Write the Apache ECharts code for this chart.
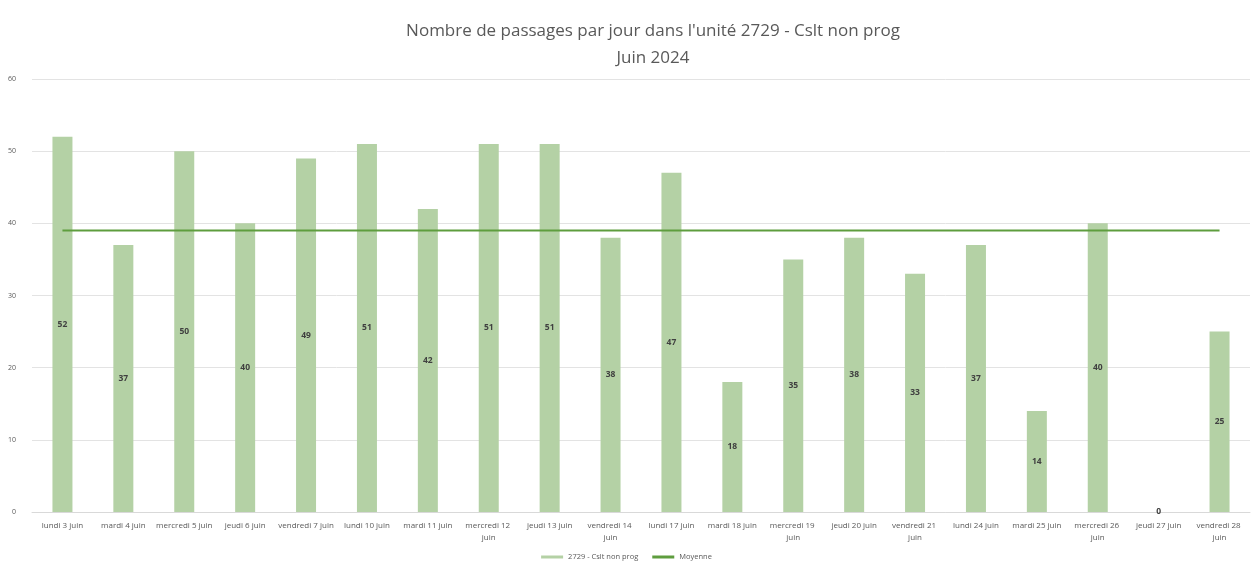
<!DOCTYPE html>
<html>
<head>
<meta charset="utf-8">
<script src="https://cdn.jsdelivr.net/npm/echarts@6/dist/echarts.min.js"></script>
<style>
  html, body { margin: 0; padding: 0; background: #fff; }
  #chart { width: 1253px; height: 568px; }
</style>
</head>
<body>
<div id="chart"></div>
<script>
var jours = [
  'lundi 3 juin', 'mardi 4 juin', 'mercredi 5 juin', 'jeudi 6 juin', 'vendredi 7 juin',
  'lundi 10 juin', 'mardi 11 juin', 'mercredi 12 juin', 'jeudi 13 juin', 'vendredi 14 juin',
  'lundi 17 juin', 'mardi 18 juin', 'mercredi 19 juin', 'jeudi 20 juin', 'vendredi 21 juin',
  'lundi 24 juin', 'mardi 25 juin', 'mercredi 26 juin', 'jeudi 27 juin', 'vendredi 28 juin'
]
var passages = [52, 37, 50, 40, 49, 51, 42, 51, 51, 38, 47, 18, 35, 38, 33, 37, 14, 40, 0, 25]
var moyenne = [39, 39, 39, 39, 39, 39, 39, 39, 39, 39, 39, 39, 39, 39, 39, 39, 39, 39, 39, 39]
var yTicks = [0, 10, 20, 30, 40, 50, 60]

var chart = echarts.init(document.getElementById('chart'))

var font = 'Open Sans, Calibri, sans-serif'

chart.setOption({
  animation: false,
  title: {
    text: "Nombre de passages par jour dans l'unité 2729 - Cslt non prog\nJuin 2024",
    left: 648,
    textAlign: 'center',
    top: 13,
    textStyle: {
      fontFamily: font,
      fontSize: 17,
      fontWeight: 'normal',
      color: '#595959',
      lineHeight: 27
    }
  },
  legend: {
    bottom: 2,
    left: 'center',
    itemWidth: 22,
    itemHeight: 3,
    itemGap: 14,
    textStyle: { fontFamily: font, fontSize: 7.5, color: '#595959' },
    data: [
      { name: '2729 - Cslt non prog', icon: 'rect' },
      { name: 'Moyenne', icon: 'rect' }
    ]
  },
  grid: {
    left: 32,
    right: 3,
    top: 79,
    bottom: 56
  },
  xAxis: {
    type: 'category',
    data: jours,
    axisTick: { show: false },
    axisLine: { lineStyle: { color: '#d9d9d9' } },
    axisLabel: {
      interval: 0,
      fontFamily: font,
      fontSize: 8,
      color: '#595959',
      width: 60,
      overflow: 'break',
      lineHeight: 12,
      margin: 8
    }
  },
  yAxis: {
    type: 'value',
    min: yTicks[0],
    max: yTicks[yTicks.length - 1],
    interval: 10,
    axisLine: { show: false },
    axisTick: { show: false },
    axisLabel: {
      fontFamily: font,
      fontSize: 7,
      color: '#595959',
      margin: 16
    },
    splitLine: { lineStyle: { color: '#e3e3e3', width: 1 } }
  },
  series: [
    {
      name: '2729 - Cslt non prog',
      type: 'bar',
      data: passages,
      barWidth: 20,
      itemStyle: { color: '#b4d1a5' },
      label: {
        show: true,
        position: 'inside',
        fontFamily: font,
        fontSize: 8.5,
        fontWeight: 'bold',
        color: '#404040'
      },
      z: 2
    },
    {
      name: 'Moyenne',
      type: 'line',
      data: moyenne,
      symbol: 'none',
      lineStyle: { color: '#5e9d3e', width: 2 },
      itemStyle: { color: '#5e9d3e' },
      z: 3
    }
  ]
})
</script>
</body>
</html>
